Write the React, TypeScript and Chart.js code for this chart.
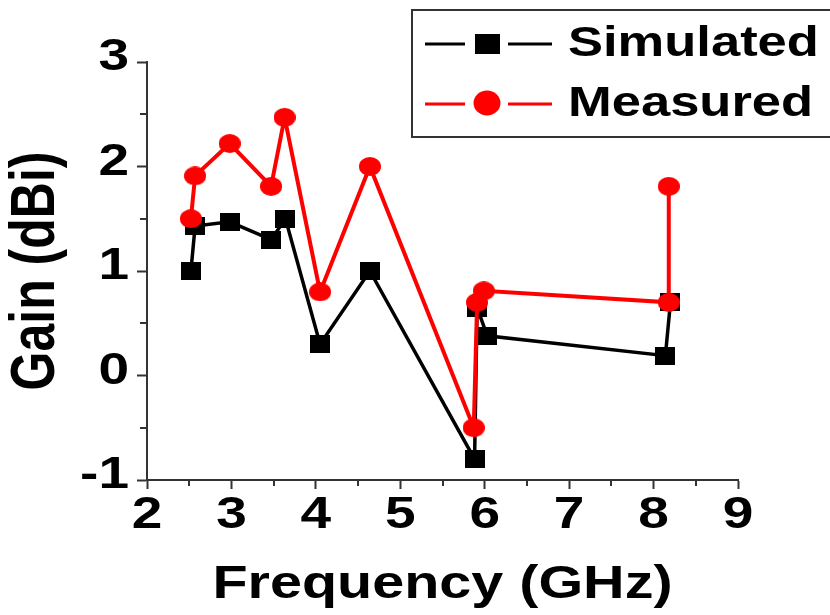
import React, { useEffect, useRef } from 'react';
import { Chart, registerables } from 'chart.js';

Chart.register(...registerables);

// ---- data ----
const simulatedFreq = [2.52, 2.57, 2.98, 3.47, 3.64, 4.05, 4.64, 5.88, 5.91, 6.03, 8.14, 8.2];
const simulatedGain = [1.0, 1.43, 1.47, 1.3, 1.5, 0.3, 1.0, -0.8, 0.65, 0.38, 0.19, 0.7];
const measuredFreq = [2.52, 2.57, 2.98, 3.47, 3.63, 4.05, 4.64, 5.87, 5.91, 5.99, 8.18, 8.18];
const measuredGain = [1.5, 1.91, 2.22, 1.81, 2.47, 0.8, 2.0, -0.5, 0.7, 0.81, 0.7, 1.81];
const xTicks = [2, 3, 4, 5, 6, 7, 8, 9];
const yTicks = [-1, 0, 1, 2, 3];
const seriesLabels = ['Simulated', 'Measured'];
const xTitle = 'Frequency (GHz)';
const yTitle = 'Gain (dBi)';

// ---- style ----
const FONT = '"Liberation Sans", Arial, sans-serif';
const SX = 1.25;
const AXIS_COLOR = '#333333';
const SIM_COLOR = '#000000';
const MEAS_COLOR = '#ff0000';

function patchStretch(ctx: CanvasRenderingContext2D) {
  const anyCtx = ctx as any;
  if (anyCtx.__stretched) return;
  const orig = ctx.fillText.bind(ctx);
  anyCtx.fillText = function (text: string, x: number, y: number) {
    const m = ctx.getTransform();
    ctx.save();
    ctx.translate(x, y);
    if (Math.abs(m.b) > 0.5) ctx.scale(1, SX);
    else ctx.scale(SX, 1);
    orig(text, 0, 0);
    ctx.restore();
  };
  anyCtx.__stretched = true;
}

function makeMarker(shape: 'rect' | 'circle', w: number, h: number, color: string) {
  const c = document.createElement('canvas');
  c.width = w;
  c.height = h;
  const g = c.getContext('2d')!;
  g.fillStyle = color;
  if (shape === 'rect') g.fillRect(0, 0, w, h);
  else {
    g.beginPath();
    g.ellipse(w / 2, h / 2, w / 2, h / 2, 0, 0, Math.PI * 2);
    g.fill();
  }
  return c;
}

const minorTicksPlugin = {
  id: 'minorTicks',
  afterDraw(chart: any) {
    const { ctx, chartArea, scales } = chart;
    ctx.save();
    ctx.strokeStyle = AXIS_COLOR;
    ctx.lineWidth = 2;
    for (let i = 0; i < xTicks.length - 1; i++) {
      const v = (xTicks[i] + xTicks[i + 1]) / 2;
      const px = Math.round(scales.x.getPixelForValue(v));
      ctx.beginPath();
      ctx.moveTo(px, chartArea.bottom);
      ctx.lineTo(px, chartArea.bottom + 6);
      ctx.stroke();
    }
    for (let i = 0; i < yTicks.length - 1; i++) {
      const v = (yTicks[i] + yTicks[i + 1]) / 2;
      const py = Math.round(scales.y.getPixelForValue(v));
      ctx.beginPath();
      ctx.moveTo(chartArea.left, py);
      ctx.lineTo(chartArea.left - 7, py);
      ctx.stroke();
    }
    ctx.restore();
  },
};

const legendPlugin = {
  id: 'originLegend',
  afterDraw(chart: any) {
    const ctx: CanvasRenderingContext2D = chart.ctx;
    ctx.save();
    ctx.fillStyle = '#ffffff';
    ctx.fillRect(412, 10, 430, 127);
    ctx.strokeStyle = AXIS_COLOR;
    ctx.lineWidth = 2;
    ctx.strokeRect(412, 10, 430, 127);
    const rows = [
      { label: seriesLabels[0], color: SIM_COLOR, y: 44, shape: 'rect' },
      { label: seriesLabels[1], color: MEAS_COLOR, y: 104, shape: 'circle' },
    ];
    rows.forEach((r) => {
      ctx.strokeStyle = r.color;
      ctx.fillStyle = r.color;
      ctx.lineWidth = 3;
      ctx.beginPath();
      ctx.moveTo(425, r.y);
      ctx.lineTo(465, r.y);
      ctx.moveTo(508, r.y);
      ctx.lineTo(552, r.y);
      ctx.stroke();
      if (r.shape === 'rect') {
        ctx.fillRect(475, r.y - 10, 25, 20);
      } else {
        ctx.beginPath();
        ctx.ellipse(487, r.y - 1, 13.5, 12.5, 0, 0, Math.PI * 2);
        ctx.fill();
      }
      ctx.fillStyle = '#000000';
      ctx.font = `bold 42px ${FONT}`;
      ctx.textAlign = 'left';
      ctx.textBaseline = 'middle';
      ctx.fillText(r.label, 568, r.y);
    });
    ctx.restore();
  },
};

export default function App() {
  const ref = useRef<HTMLCanvasElement>(null);
  useEffect(() => {
    const canvas = ref.current!;
    const ctx = canvas.getContext('2d')!;
    patchStretch(ctx);
    const squareMarker = makeMarker('rect', 20, 18, SIM_COLOR);
    const circleMarker = makeMarker('circle', 22, 19, MEAS_COLOR);
    const chart = new Chart(ctx, {
      type: 'line',
      data: {
        datasets: [
          {
            label: seriesLabels[1],
            data: measuredFreq.map((x, i) => ({ x, y: measuredGain[i] })),
            borderColor: MEAS_COLOR,
            backgroundColor: MEAS_COLOR,
            borderWidth: 4,
            pointStyle: circleMarker as any,
            pointRadius: 10,
            tension: 0,
            order: 1,
          },
          {
            label: seriesLabels[0],
            data: simulatedFreq.map((x, i) => ({ x, y: simulatedGain[i] })),
            borderColor: SIM_COLOR,
            backgroundColor: SIM_COLOR,
            borderWidth: 3.5,
            pointStyle: squareMarker as any,
            pointRadius: 10,
            tension: 0,
            order: 2,
          },
        ],
      },
      options: {
        animation: false,
        responsive: true,
        maintainAspectRatio: false,
        layout: { padding: { top: 62, right: 92, left: 0, bottom: 0 } },
        plugins: { legend: { display: false }, tooltip: { enabled: false } },
        scales: {
          x: {
            type: 'linear',
            min: 2,
            max: 9,
            afterBuildTicks: (s: any) => {
              s.ticks = xTicks.map((v) => ({ value: v }));
            },
            afterFit: (s: any) => {
              s.height = 135;
            },
            grid: {
              drawOnChartArea: false,
              drawTicks: true,
              tickLength: 9,
              tickWidth: 2,
              tickColor: AXIS_COLOR,
            },
            border: { display: true, color: AXIS_COLOR, width: 2 },
            ticks: {
              color: '#000000',
              font: { family: FONT, size: 44, weight: 'bold', lineHeight: 1 },
              padding: 5,
              maxRotation: 0,
              autoSkip: false,
            },
            title: {
              display: true,
              text: xTitle,
              color: '#000000',
              font: { family: FONT, size: 46, weight: 'bold', lineHeight: 1.2 },
              padding: { top: 0, bottom: 2 },
            },
          },
          y: {
            type: 'linear',
            min: -1,
            max: 3,
            afterBuildTicks: (s: any) => {
              s.ticks = yTicks.map((v) => ({ value: v }));
            },
            afterFit: (s: any) => {
              s.width = 147;
            },
            grid: {
              drawOnChartArea: false,
              drawTicks: true,
              tickLength: 10,
              tickWidth: 2,
              tickColor: AXIS_COLOR,
            },
            border: { display: true, color: AXIS_COLOR, width: 2 },
            ticks: {
              color: '#000000',
              font: { family: FONT, size: 44, weight: 'bold', lineHeight: 1 },
              padding: 8,
              labelOffset: -4,
              autoSkip: false,
            },
            title: {
              display: true,
              text: yTitle,
              color: '#000000',
              font: { family: FONT, size: 50, weight: 'bold', lineHeight: 1.2 },
              padding: { top: 7, bottom: 0 },
            },
          },
        },
      },
      plugins: [minorTicksPlugin, legendPlugin],
    } as any);
    return () => chart.destroy();
  }, []);
  return (
    <div style={{ position: 'absolute', left: 0, top: 0, width: 830, height: 615 }}>
      <canvas ref={ref} />
    </div>
  );
}
